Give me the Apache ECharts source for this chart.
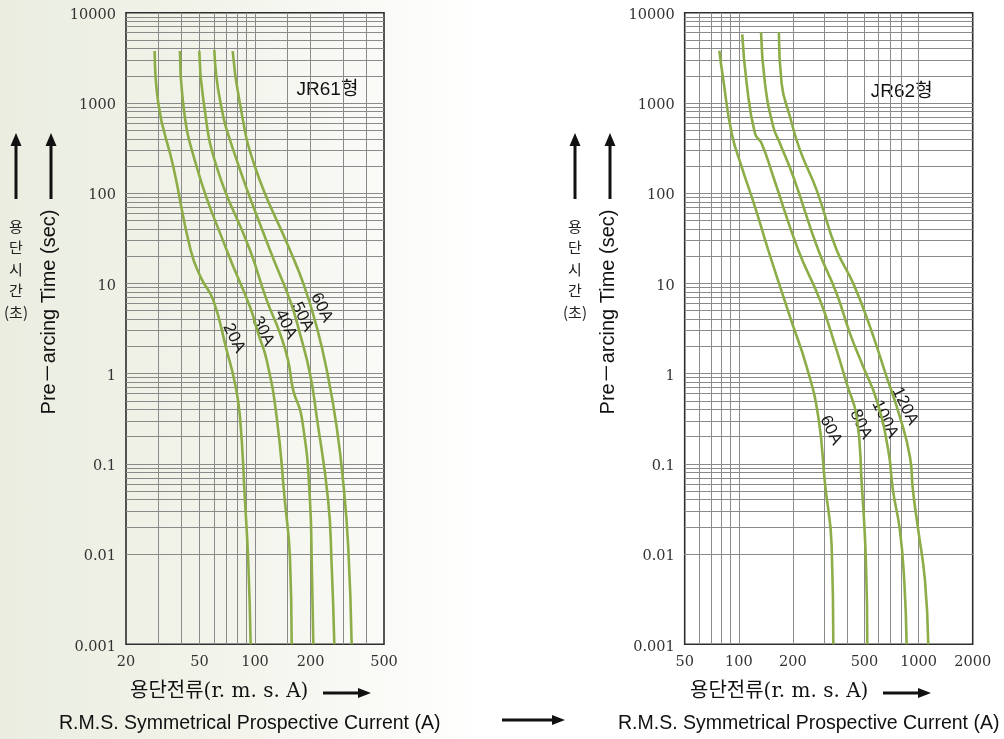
<!DOCTYPE html>
<html><head><meta charset="utf-8">
<script src="https://cdn.jsdelivr.net/npm/echarts@6/dist/echarts.min.js"></script>
<style>
html,body{margin:0;padding:0;}
body{width:1004px;height:739px;background:linear-gradient(to right,#eaede0 0%,#f2f4eb 22%,#fafaf7 38%,#ffffff 48%);}
#c{width:1004px;height:739px;}
</style></head><body><div id="c"></div>
<script>
// ---------- data (current A, pre-arcing time s) ----------
const jr61Names = ['20A','30A','40A','50A','60A'];
const jr61_20A = [[28.6,3760],[29.9,1000],[36.1,196],[44.8,23.4],[51,11.5],[59.4,6.53],[70.2,1.82],[77.9,0.778],[82.9,0.332],[88.2,0.0396],[92.0,0.0079],[94.7,0.001]];
const jr61_30A = [[39.2,3760],[40.6,1077],[48.3,196],[70.2,23.4],[93.9,5.5],[104,2.79],[115.7,1.41],[131,0.332],[145,0.0396],[154.6,0.0093],[158,0.001]];
const jr61_40A = [[49.9,3760],[52.5,1077],[62,196],[93.9,23.4],[115.7,6.53],[136.6,2.79],[151,1.41],[161,0.656],[179,0.332],[198.5,0.0396],[203,0.0079],[207,0.001]];
const jr61_50A = [[60.2,3860],[64.6,1077],[76.3,300],[120.5,23.4],[154.6,6.53],[175,2.79],[198.5,1.0],[216,0.332],[249,0.0396],[260,0.0079],[269,0.001]];
const jr61_60A = [[75.7,3760],[82.2,1077],[100,196],[154.6,23.4],[182.6,10],[216,3.3],[249,0.92],[277,0.257],[301,0.0607],[320,0.012],[334,0.001]];
const jr61LabelAt = [[76.9,2.48],[110.4,2.96],[147,3.53],[180.8,4.26],[229.6,5.39]];

const jr62Names = ['60A','80A','100A','120A'];
const jr62_60A = [[77.9,3790],[82,1794],[91.3,460],[103.7,196],[123,70.6],[145.8,23.4],[192.6,4.26],[238.5,1.19],[276.7,0.332],[301.5,0.0607],[328.6,0.012],[335.5,0.001]];
const jr62_80A = [[104.5,5760],[110.6,1650],[123,460],[134,356],[155.5,152],[214,23.4],[282.8,6.53],[350,1.82],[398,0.778],[452.6,0.332],[482.6,0.0607],[509.7,0.0079],[518.5,0.001]];
const jr62_100A = [[132.9,6070],[139.8,1650],[155.5,545],[169.4,356],[201,152],[276.7,23.4],[350,7.74],[415,2.79],[492,1.19],[584.5,0.508],[678,0.142],[720,0.051],[787,0.0184],[832,0.00514],[858,0.001]];
const jr62_120A = [[167,6070],[173,1650],[192.6,703],[219,300],[271,108],[350,23.4],[433,10],[537,3.3],[664,0.92],[787,0.332],[895,0.12],[930,0.051],[996,0.0184],[1085,0.00514],[1132,0.001]];
const jr62LabelAt = [[324.8,0.236],[476.9,0.275],[650,0.313],[840,0.438]];

// ---------- axes / ticks ----------
const leftXTicks = [20,50,100,200,500];
const rightXTicks = [50,100,200,500,1000,2000];
const yTicks = [0.001,0.01,0.1,1,10,100,1000,10000];
const yTickLabels = ['0.001','0.01','0.1','1','10','100','1000','10000'];
const leftXGrid = [30,40,50,60,70,80,90,100,150,200,300,400];
const rightXGrid = [60,70,80,90,100,200,300,400,500,600,700,800,1000];
const yDecades = [0.001,0.01,0.1,1,10,100,1000];
const yMinorSteps = [1,2,3,4,5,6,7,8,9];

const yGrid = [];
yDecades.forEach(d => yMinorSteps.forEach(s => { const v = +(d*s).toPrecision(3); if (v > 0.001) yGrid.push(v); }));

const GREEN = '#8cad47';
const GRIDC = '#8a8a8a';
const serif = '"DejaVu Serif","Liberation Serif",serif';
const sans = '"Liberation Sans",Arial,"Noto Sans CJK KR",sans-serif';

function gridSeries(xi, xs) {
  return {
    type: 'line', xAxisIndex: xi, yAxisIndex: xi, data: [], silent: true,
    markLine: {
      silent: true, symbol: ['none','none'], animation: false,
      label: {show: false},
      lineStyle: {color: GRIDC, width: 1, type: 'solid'},
      emphasis: {disabled: true},
      data: xs.map(v => ({xAxis: v})).concat(yGrid.map(v => ({yAxis: v})))
    }
  };
}
function curve(xi, data, name, at) {
  return {
    type: 'line', xAxisIndex: xi, yAxisIndex: xi, data: data, name: name,
    showSymbol: false, smooth: 0.5, clip: true, silent: true, z: 5,
    lineStyle: {color: GREEN, width: 2.6},
    markPoint: {
      symbol: 'circle', symbolSize: 0, silent: true, animation: false,
      data: [{coord: at, value: name}],
      label: {show: true, position: 'inside', formatter: name, rotate: -64,
        color: '#1a1a1a', fontSize: 17, fontFamily: sans}
    }
  };
}
function xAxisCfg(gi, min, max, ticks) {
  return {
    type: 'log', gridIndex: gi, min: min, max: max, logBase: 10,
    axisLine: {show: false}, axisTick: {show: false}, splitLine: {show: false}, minorSplitLine: {show:false},
    axisLabel: {show: true, customValues: ticks, margin: 10, color: '#333', fontSize: 14.5, fontFamily: serif,
      showMinLabel: true, showMaxLabel: true, formatter: v => String(Math.round(v))}
  };
}
function yAxisCfg(gi) {
  return {
    type: 'log', gridIndex: gi, min: 0.001, max: 10000, logBase: 10,
    axisLine: {show: false}, axisTick: {show: false}, splitLine: {show: false},
    axisLabel: {show: true, customValues: yTicks, margin: 10, color: '#333', fontSize: 14.5, fontFamily: serif,
      showMinLabel: true, showMaxLabel: true,
      formatter: v => '{t|' + yTickLabels[Math.round(Math.log10(v)) + 3] + '}',
      rich: {t: {color: '#333', fontSize: 14.5, fontFamily: serif, padding: [5, 0, 0, 0]}}}
  };
}

function arrowUp(x, yTop, yBot) {
  return [
    {type:'line', shape:{x1:x, y1:yBot, x2:x, y2:yTop+10}, style:{stroke:'#111', lineWidth:3}},
    {type:'polygon', shape:{points:[[x-5.5,yTop+13],[x+5.5,yTop+13],[x,yTop]]}, style:{fill:'#111'}}
  ];
}
function arrowRight(x1, x2, y) {
  return [
    {type:'line', shape:{x1:x1, y1:y, x2:x2-10, y2:y}, style:{stroke:'#111', lineWidth:3}},
    {type:'polygon', shape:{points:[[x2-13,y-5],[x2-13,y+5],[x2,y]]}, style:{fill:'#111'}}
  ];
}
function txt(x, y, text, font, opts) {
  return Object.assign({type:'text', x:x, y:y, style:Object.assign({text:text, font:font, fill:'#111', align:'center', verticalAlign:'middle'}, (opts && opts.style) || {})}, (opts && opts.el) || {});
}
function yTitleGroup(xEn, xKo) {
  return [
    txt(xEn, 312, 'Pre－arcing Time (sec)', '20px ' + sans, {el:{rotation: Math.PI/2}}),
    ...arrowUp(xEn + 2, 133, 199),
    ...arrowUp(xKo, 133, 199),
    txt(xKo, 269, '용\n단\n시\n간\n(초)', '15px "Noto Sans CJK KR",sans-serif', {style:{lineHeight:21.5, fill:'#222'}})
  ];
}
const xTitleFont = '20px "DejaVu Serif","Noto Sans CJK KR",serif';

const option = {
  animation: false,
  backgroundColor: 'transparent',
  grid: [
    {left:126, top:12.7, width:258, height:631.6, show:true, borderColor:'#2e2e2e', borderWidth:1.6, backgroundColor:'transparent'},
    {left:684.7, top:12.7, width:288, height:631.6, show:true, borderColor:'#2e2e2e', borderWidth:1.6, backgroundColor:'transparent'}
  ],
  xAxis: [xAxisCfg(0, 20, 500, leftXTicks), xAxisCfg(1, 50, 2000, rightXTicks)],
  yAxis: [yAxisCfg(0), yAxisCfg(1)],
  series: [
    gridSeries(0, leftXGrid),
    gridSeries(1, rightXGrid),
    curve(0, jr61_20A, jr61Names[0], jr61LabelAt[0]),
    curve(0, jr61_30A, jr61Names[1], jr61LabelAt[1]),
    curve(0, jr61_40A, jr61Names[2], jr61LabelAt[2]),
    curve(0, jr61_50A, jr61Names[3], jr61LabelAt[3]),
    curve(0, jr61_60A, jr61Names[4], jr61LabelAt[4]),
    curve(1, jr62_60A, jr62Names[0], jr62LabelAt[0]),
    curve(1, jr62_80A, jr62Names[1], jr62LabelAt[1]),
    curve(1, jr62_100A, jr62Names[2], jr62LabelAt[2]),
    curve(1, jr62_120A, jr62Names[3], jr62LabelAt[3])
  ],
  graphic: [
    txt(327.5, 90, 'JR61형', '19px ' + sans),
    txt(901.7, 92, 'JR62형', '19px ' + sans),
    ...yTitleGroup(49, 16),
    ...yTitleGroup(608, 575),
    txt(130, 692, '용단전류(r. m. s. A)', xTitleFont, {style:{align:'left'}}),
    ...arrowRight(323, 371, 693),
    txt(690, 692, '용단전류(r. m. s. A)', xTitleFont, {style:{align:'left'}}),
    ...arrowRight(883, 931, 693),
    txt(59, 724, 'R.M.S. Symmetrical Prospective Current (A)', '19.5px ' + sans, {style:{align:'left'}}),
    txt(618, 724, 'R.M.S. Symmetrical Prospective Current (A)', '19.5px ' + sans, {style:{align:'left'}}),
    ...arrowRight(502, 565, 720)
  ]
};
const chart = echarts.init(document.getElementById('c'), null, {renderer:'canvas'});
chart.setOption(option);
</script></body></html>
